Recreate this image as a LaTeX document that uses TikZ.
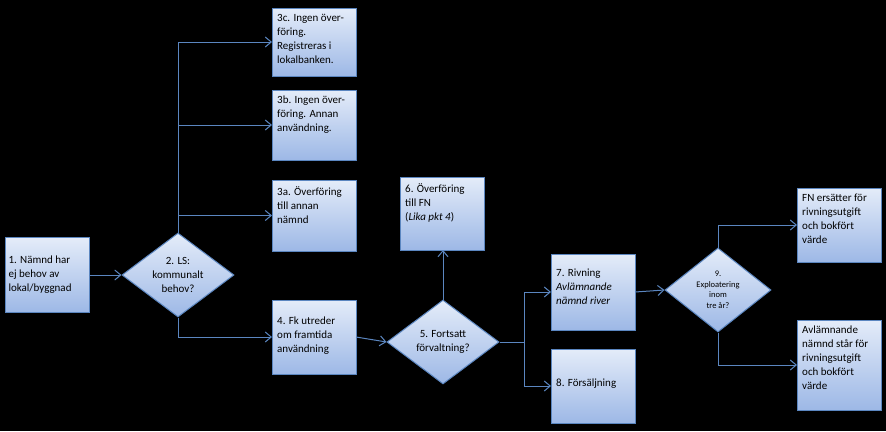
\documentclass[tikz,border=0pt]{standalone}
\usepackage{fontspec}
\setmainfont{Carlito}
\usetikzlibrary{shapes.geometric,arrows.meta}
\definecolor{bord}{HTML}{5B86C0}
\definecolor{ltop}{HTML}{E4ECF9}
\definecolor{lbot}{HTML}{9DB8E6}
\tikzset{
 bx/.style={draw=bord,line width=1pt,top color=ltop,bottom color=lbot,align=left,anchor=north west,inner sep=4pt,text width=#1,font=\fontsize{11}{14}\selectfont},
 dm/.style={diamond,draw=bord,line width=1pt,top color=ltop,bottom color=lbot,align=center,inner sep=0pt,font=\fontsize{11}{14}\selectfont},
 ar/.style={draw=bord,line width=1pt,-{Straight Barb[length=6pt,width=10pt]}},
 ln/.style={draw=bord,line width=1pt}
}
\begin{document}
\begin{tikzpicture}[x=1pt,y=-1pt]
\fill[black] (0,0) rectangle (886,431);
\useasboundingbox (0,0) rectangle (886,431);
\newcommand\bxat[6]{\path[bx=#4,minimum width=#4,minimum height=#5] (#2,#3) node[#6,text width=#4-8pt,minimum width=#4,minimum height=#5] (#1)}
\node[bx=76pt,minimum height=75pt,text width=76pt,inner sep=4pt,anchor=north west,text depth=0pt] (n1) at (5,237) {};
\node[anchor=west,align=left,font=\fontsize{11}{14}\selectfont] at (n1.west) {1. Nämnd har\\ej behov av\\lokal/byggnad};
\node[dm,minimum width=112pt,minimum height=84pt,aspect=1.33] (n2) at (178,275) {};
\node[align=center,font=\fontsize{11}{14}\selectfont] at (n2) {2. LS:\\kommunalt\\behov?};
% boxes
\foreach \nm/\x/\y/\h in {c3/272/8/68,b3/272/90/70,a3/272/180/71,n4/272/300/74,n6/400/177/73,n7/551/254/76,n8/551/349/74,fa/797/188/74,fb/797/320/90}{
 \path[draw=bord,line width=1pt,top color=ltop,bottom color=lbot] (\x,\y) rectangle ++(84,\h);
 \coordinate (\nm) at (\x,\y+\h/2);
}
\path (272,8) coordinate (c3nw) (272,90) coordinate (b3nw) (272,180) coordinate (a3nw) (272,300) coordinate (n4nw) (400,177) coordinate (n6nw) (551,254) coordinate(n7nw) (551,349) coordinate (n8nw) (797,188) coordinate (fanw) (797,320) coordinate (fbnw);
\tikzset{tx/.style={anchor=north west,align=left,inner sep=0pt,font=\fontsize{11}{14}\selectfont}}
\node[tx] (t3c) at ([shift={(5,6)}]c3nw) {3c. Ingen över-\\föring.\\Registreras i\\lokalbanken.};
\node[tx] (t3b) at ([shift={(5,6)}]b3nw) {3b. Ingen över-\\föring. Annan\\användning.};
\node[tx] (t3a) at ([shift={(5,6)}]a3nw) {3a. Överföring\\till annan\\nämnd};
\node[tx] (t4) at ([shift={(5,17)}]n4nw) {4. Fk utreder\\om framtida\\användning};
\node[tx] (t6) at ([shift={(5,6)}]n6nw) {6. Överföring\\till FN\\(\textit{Lika pkt 4})};
\node[tx] (t7) at ([shift={(5,15)}]n7nw) {7. Rivning\\\textit{Avlämnande}\\\textit{nämnd river}};
\node[tx] (t8) at ([shift={(5,30)}]n8nw) {8. Försäljning};
\node[tx] (tfa) at ([shift={(5,6)}]fanw) {FN ersätter för\\rivningsutgift\\och bokfört\\värde};
\node[tx] (tfb) at ([shift={(5,6)}]fbnw) {Avlämnande\\nämnd står för\\rivningsutgift\\och bokfört\\värde};
\node[dm,minimum width=112pt,minimum height=84pt] (n5) at (443,342) {};
\node[align=center,font=\fontsize{11}{14}\selectfont] at (n5) {5. Fortsatt\\förvaltning?};
\node[dm,minimum width=106pt,minimum height=84pt] (n9) at (718,290) {};
\node[align=center,font=\fontsize{8.5}{10.5}\selectfont] at (n9) {9.\\Exploatering\\inom\\tre år?};
% connectors
\draw[ar] (n1.east |- 0,275) -- (n2.west);
\coordinate (j2) at (178,42);
\draw[ln] (n2.north) -- (j2);
\draw[ar] (j2) -- (c3);
\draw[ar] (178,125) -- (b3);
\draw[ar] (178,215.5) -- (a3);
\draw[ar] (n2.south) |- (n4);
\draw[ar] (356,337) -- (n5.west);
\draw[ar] (n5.north) -- (443,250);
\coordinate (j5) at (524,342);
\draw[ln] (n5.east) -- (j5);
\draw[ar] (j5) |- (n7);
\draw[ar] (j5) |- (n8);
\draw[ar] (635,292) -- (n9.west);
\draw[ar] (n9.north) |- (fa);
\draw[ar] (n9.south) |- (fb);
\end{tikzpicture}
\end{document}
